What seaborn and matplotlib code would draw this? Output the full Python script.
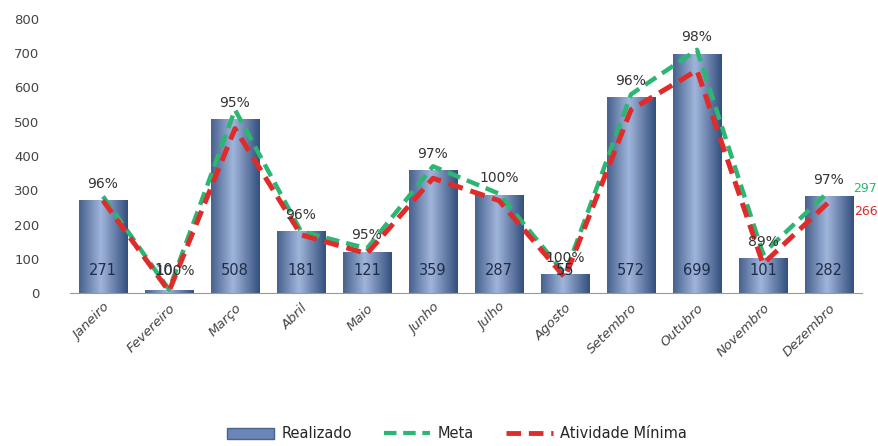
import numpy as np
import pandas as pd
import matplotlib
matplotlib.use("Agg")
import matplotlib.pyplot as plt
import seaborn as sns
from matplotlib.lines import Line2D
from matplotlib.patches import Patch
from matplotlib.colors import LinearSegmentedColormap

meses = ["Janeiro", "Fevereiro", "Março", "Abril", "Maio", "Junho", "Julho",
         "Agosto", "Setembro", "Outubro", "Novembro", "Dezembro"]
realizado = [271, 10, 508, 181, 121, 359, 287, 55, 572, 699, 101, 282]
meta = [282, 10, 535, 180, 130, 370, 290, 55, 580, 710, 115, 297]
atividade_minima = [270, 5, 480, 170, 115, 335, 270, 45, 535, 650, 85, 266]
percentuais = ["96%", "100%", "95%", "96%", "95%", "97%", "100%", "100%",
               "96%", "98%", "89%", "97%"]

sns.set_theme(style="white")
plt.rcParams['font.family'] = ['DejaVu Sans']

fig = plt.figure(figsize=(8.79, 4.46), dpi=100)
ax = fig.add_axes([70/879, 1-293/446, (862-70)/879, (293-19)/446])

df = pd.DataFrame({"Mes": meses, "Realizado": realizado})
sns.barplot(data=df, x="Mes", y="Realizado", ax=ax, color="#6a86b6",
            width=0.73, edgecolor="#4a628c", linewidth=0.6, saturation=1)

# gradient fill for bars
grad = np.linspace(0, 1, 64)
grad = 1 - np.abs(grad - 0.45) * 1.6
grad = np.clip(grad, 0, 1)[None, :]
cmap = LinearSegmentedColormap.from_list("bar", ["#34507e", "#9fb4d9"])
for p in list(ax.patches):
    x0, y0 = p.get_x(), p.get_y()
    w, h = p.get_width(), p.get_height()
    im = ax.imshow(grad, cmap=cmap, aspect="auto", extent=[x0, x0 + w, y0, y0 + h],
                   zorder=p.get_zorder() + 0.1, interpolation="bicubic")
    im.set_clip_path(p)

xs = np.arange(len(meses))
ldf = pd.DataFrame({"x": xs, "Meta": meta, "Ativ": atividade_minima})
sns.lineplot(data=ldf, x="x", y="Meta", ax=ax, color="#2bb673", linewidth=3.2,
             linestyle=(0, (3, 1.6)), zorder=5, sort=False)
sns.lineplot(data=ldf, x="x", y="Ativ", ax=ax, color="#e02b2b", linewidth=3.6,
             linestyle=(0, (3, 1.6)), zorder=6, sort=False)

for i, (r, pc) in enumerate(zip(realizado, percentuais)):
    if r >= 40:
        ax.text(i, 65, str(r), ha="center", va="center", fontsize=10.5,
                color="#1f2d4a", zorder=8)
    else:
        ax.text(i - 0.08, 65, str(r), ha="center", va="center", fontsize=10.5,
                color="#1f2d4a", zorder=8)
    y = max(r, 10) + 48
    if r < 40:
        y = 65
    ax.text(i + (0.1 if r < 40 else 0), y, pc, ha="center", va="center",
            fontsize=10, color="#333333", zorder=8)

ax.text(11.36, meta[-1] + 8, str(meta[-1]), color="#2bb673", fontsize=9,
        ha="left", va="center", clip_on=False)
ax.text(11.38, atividade_minima[-1] - 28, str(atividade_minima[-1]), color="#e02b2b",
        fontsize=9, ha="left", va="center", clip_on=False)

ax.set_xlim(-0.5, 11.5)
ax.set_ylim(0, 800)
ax.set_yticks(range(0, 801, 100))
ax.set_xlabel("")
ax.set_ylabel("")
ax.tick_params(axis="y", labelsize=9.5, colors="#444444", length=0, pad=22)
ax.tick_params(axis="x", labelsize=9.5, colors="#444444", length=0, pad=6)
plt.setp(ax.get_xticklabels(), rotation=45, ha="right", rotation_mode="anchor",
         style="italic")
for s in ["top", "right", "left"]:
    ax.spines[s].set_visible(False)
ax.spines["bottom"].set_color("#999999")
ax.spines["bottom"].set_linewidth(0.8)

handles = [Patch(facecolor="#6a86b6", edgecolor="#4a628c"),
           Line2D([0], [0], color="#2bb673", lw=3, linestyle=(0, (3, 1.6))),
           Line2D([0], [0], color="#e02b2b", lw=3.5, linestyle=(0, (3, 1.6)))]
fig.legend(handles, ["Realizado", "Meta", "Atividade Mínima"], loc="center",
           bbox_to_anchor=(0.52, 1-434/446), ncol=3, frameon=False, fontsize=10.5,
           handlelength=3.2, columnspacing=2.2, handletextpad=0.5)

fig.savefig("out.png", dpi=100)
